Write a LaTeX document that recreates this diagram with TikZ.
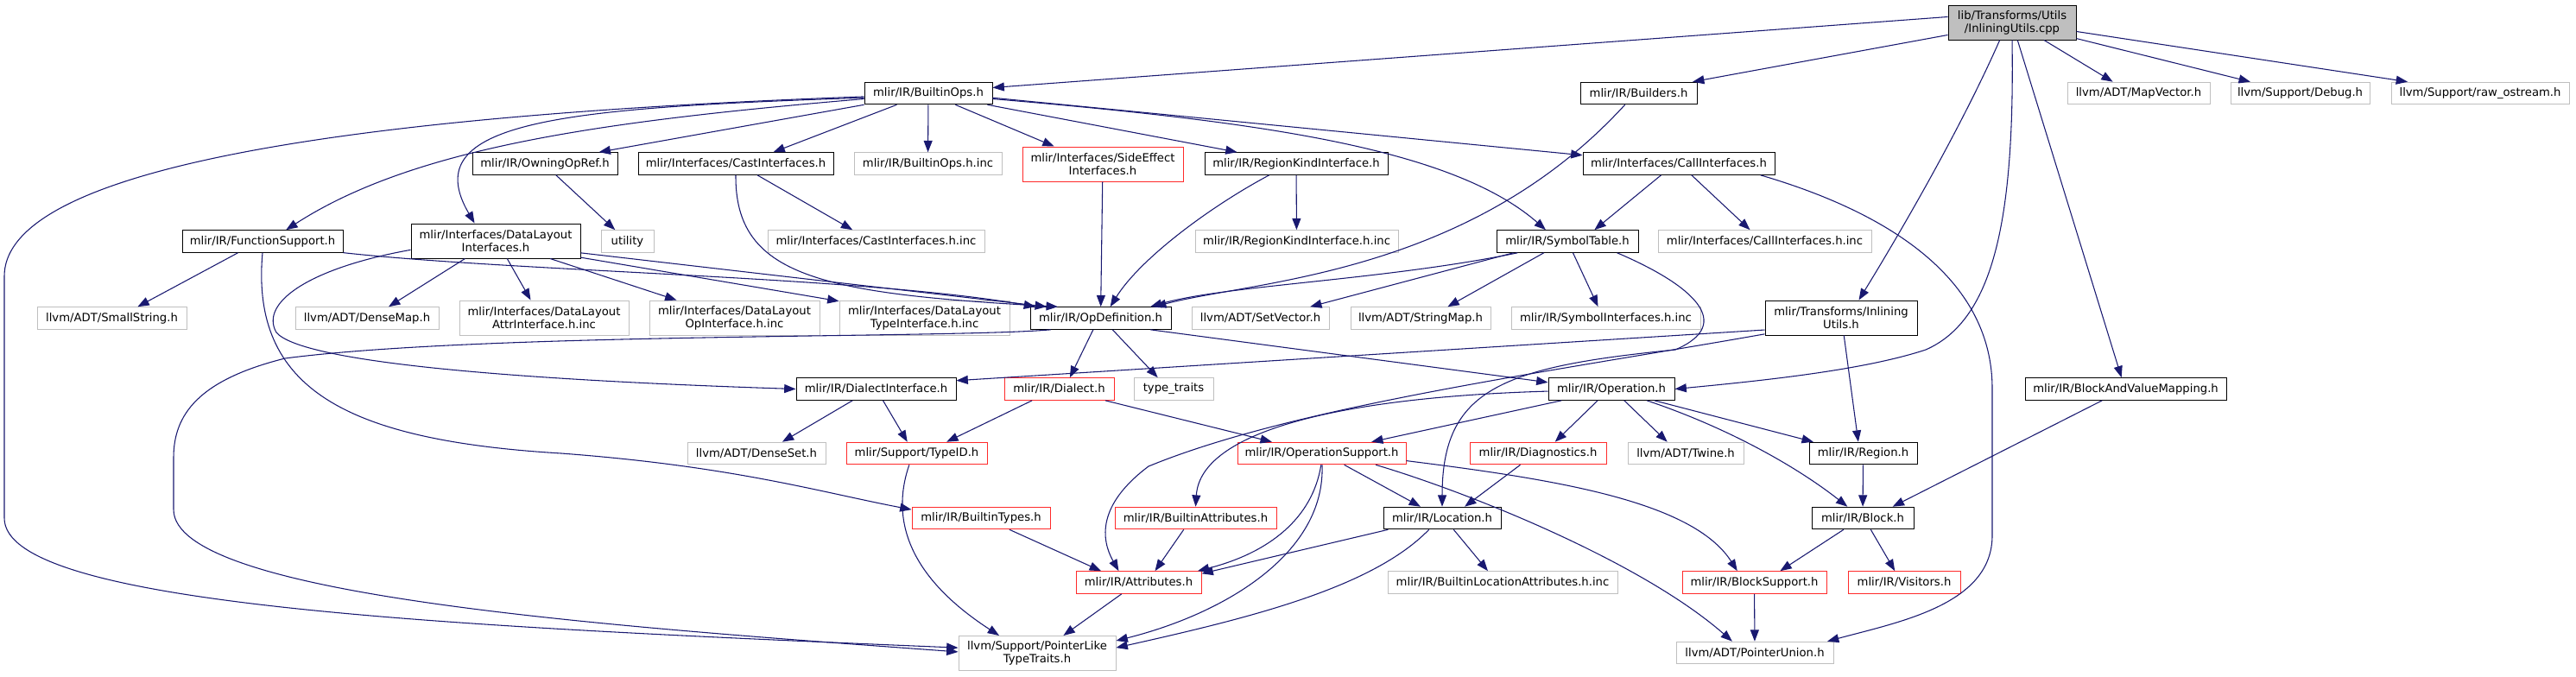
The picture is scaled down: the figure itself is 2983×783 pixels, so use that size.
\documentclass[tikz,border=0pt]{standalone}
\usepackage{fontspec}
\setmainfont{DejaVu Sans}
\usepackage{tikz}
\usetikzlibrary{arrows.meta}
\definecolor{edgeblue}{HTML}{191970}
\definecolor{extgray}{HTML}{BFBFBF}
\definecolor{rootgray}{HTML}{BFBFBF}
\definecolor{truncred}{HTML}{FF2A2A}

\begin{document}
\begin{tikzpicture}[
  x=0.75pt, y=-0.75pt,
  hdr/.style={draw=black, fill=white, line width=0.75pt, inner sep=0pt, minimum height=19.2pt, align=center, font=\fontsize{9.9}{11.25}\selectfont},
  ext/.style={hdr, draw=extgray},
  trunc/.style={hdr, draw=truncred},
  tall/.style={minimum height=30pt},
  wd/.style={minimum width=#1*0.75pt},
  dep/.style={-{Triangle[length=10pt,width=7.5pt]}, draw=edgeblue, line width=0.8pt}
]
\useasboundingbox (0,0) rectangle (2983,783);
\node[hdr, tall, wd=148, fill=rootgray] (root) at (2330,26) {lib/Transforms/Utils\\/InliningUtils.cpp};
\node[hdr, wd=148] (ops) at (1075,108) {mlir/IR/BuiltinOps.h};
\node[hdr, wd=135] (bld) at (1897.5,108) {mlir/IR/Builders.h};
\node[ext, wd=165] (mapvec) at (2476.5,108) {llvm/ADT/MapVector.h};
\node[ext, wd=161] (dbg) at (2663.5,108) {llvm/Support/Debug.h};
\node[ext, wd=206] (rawos) at (2872,108) {llvm/Support/raw\_ostream.h};
\node[hdr, wd=168] (owning) at (631,189.5) {mlir/IR/OwningOpRef.h};
\node[hdr, wd=226] (cast) at (852,189.5) {mlir/Interfaces/CastInterfaces.h};
\node[ext, wd=171] (opsinc) at (1074.5,189.5) {mlir/IR/BuiltinOps.h.inc};
\node[trunc, tall, wd=186] (side) at (1277,190) {mlir/Interfaces/SideEffect\\Interfaces.h};
\node[hdr, wd=212] (rki) at (1501,189.5) {mlir/IR/RegionKindInterface.h};
\node[hdr, wd=222] (call) at (1944,189.5) {mlir/Interfaces/CallInterfaces.h};
\node[hdr, wd=186] (func) at (304,279.5) {mlir/IR/FunctionSupport.h};
\node[hdr, tall, wd=196] (dl) at (574,279) {mlir/Interfaces/DataLayout\\Interfaces.h};
\node[ext, wd=61] (util) at (726.5,279.5) {utility};
\node[ext, wd=251] (castinc) at (1014.5,279.5) {mlir/Interfaces/CastInterfaces.h.inc};
\node[ext, wd=235] (rkiinc) at (1501.5,279.5) {mlir/IR/RegionKindInterface.h.inc};
\node[hdr, wd=164] (sym) at (1815,279.5) {mlir/IR/SymbolTable.h};
\node[ext, wd=247] (callinc) at (2043.5,279.5) {mlir/Interfaces/CallInterfaces.h.inc};
\node[ext, wd=173] (smallstr) at (129.5,368.5) {llvm/ADT/SmallString.h};
\node[ext, wd=166] (densemap) at (425,368.5) {llvm/ADT/DenseMap.h};
\node[ext, tall, wd=196] (dlattr) at (630,368) {mlir/Interfaces/DataLayout\\AttrInterface.h.inc};
\node[ext, tall, wd=197] (dlop) at (850.5,368) {mlir/Interfaces/DataLayout\\OpInterface.h.inc};
\node[ext, tall, wd=197] (dltype) at (1070.5,368) {mlir/Interfaces/DataLayout\\TypeInterface.h.inc};
\node[hdr, wd=163] (opdef) at (1274.5,368.5) {mlir/IR/OpDefinition.h};
\node[ext, wd=159] (setvec) at (1459.5,368.5) {llvm/ADT/SetVector.h};
\node[ext, wd=162] (strmap) at (1645,368.5) {llvm/ADT/StringMap.h};
\node[ext, wd=219] (syminc) at (1859.5,368.5) {mlir/IR/SymbolInterfaces.h.inc};
\node[hdr, tall, wd=176] (inl) at (2132,368) {mlir/Transforms/Inlining\\Utils.h};
\node[hdr, wd=185] (dlif) at (1014.5,450.5) {mlir/IR/DialectInterface.h};
\node[trunc, wd=127] (dialect) at (1226.5,450.5) {mlir/IR/Dialect.h};
\node[ext, wd=92] (traits) at (1359,450.5) {type\_traits};
\node[hdr, wd=146] (oper) at (1866,450.5) {mlir/IR/Operation.h};
\node[hdr, wd=233] (bvm) at (2461.5,450.5) {mlir/IR/BlockAndValueMapping.h};
\node[ext, wd=160] (denseset) at (876,525) {llvm/ADT/DenseSet.h};
\node[trunc, wd=163] (typeid) at (1061.5,525) {mlir/Support/TypeID.h};
\node[trunc, wd=195] (opsup) at (1530.5,525) {mlir/IR/OperationSupport.h};
\node[trunc, wd=158] (diag) at (1781,525) {mlir/IR/Diagnostics.h};
\node[ext, wd=134] (twine) at (1952,525) {llvm/ADT/Twine.h};
\node[hdr, wd=125] (region) at (2157.5,525) {mlir/IR/Region.h};
\node[trunc, wd=160] (btypes) at (1136,600) {mlir/IR/BuiltinTypes.h};
\node[trunc, wd=187] (battrs) at (1384.5,600) {mlir/IR/BuiltinAttributes.h};
\node[hdr, wd=136] (loc) at (1670,600) {mlir/IR/Location.h};
\node[hdr, wd=118] (block) at (2157,600) {mlir/IR/Block.h};
\node[trunc, wd=145] (attrs) at (1318.5,674.5) {mlir/IR/Attributes.h};
\node[ext, wd=266] (locinc) at (1740,674.5) {mlir/IR/BuiltinLocationAttributes.h.inc};
\node[trunc, wd=167] (bsup) at (2031.5,674.5) {mlir/IR/BlockSupport.h};
\node[trunc, wd=130] (visit) at (2205,674.5) {mlir/IR/Visitors.h};
\node[ext, tall, wd=182] (ptrlike) at (1201,756.5) {llvm/Support/PointerLike\\TypeTraits.h};
\node[ext, wd=182] (ptrunion) at (2032,756) {llvm/ADT/PointerUnion.h};
\draw[dep] (root.175) -- (ops.5);
\draw[dep] (root.191) -- (bld.12);
\draw[dep] (root.235) .. controls (2270,150) and (2200,270) .. (inl.45);
\draw[dep] (root.south) .. controls (2333,250) and (2310,370) .. (2230,405) .. controls (2160,428) and (2050,440) .. (oper.east);
\draw[dep] (root.-73) -- (bvm.110);
\draw[dep] (root.-29) -- (mapvec.156);
\draw[dep] (root.-14) -- (dbg.167);
\draw[dep] (root.-8) -- (rawos.171);
\draw[dep] (ops.183) .. controls (500,130) and (5,180) .. (5,320) -- (5,600) .. controls (5,700) and (500,725) .. (ptrlike.176);
\draw[dep] (ops.185) .. controls (700,140) and (480,170) .. (func.26);
\draw[dep] (ops.184) .. controls (650,125) and (480,140) .. (dl.140);
\draw[dep] (ops.south west) -- (owning.12);
\draw[dep] (ops.200) -- (cast.17);
\draw[dep] (ops) -- (opsinc);
\draw[dep] (ops.-23) -- (side.160);
\draw[dep] (ops.-11) -- (rki.169);
\draw[dep] (ops.-5) .. controls (1450,140) and (1680,170) .. (sym.152);
\draw[dep] (ops.-4) -- (call.175);
\draw[dep] (bld.220) .. controls (1700,320) and (1450,325) .. (opdef.12);
\draw[dep] (call.213) -- (sym.23);
\draw[dep] (call.-42) -- (callinc.142);
\draw[dep] (call.-8) .. controls (2200,250) and (2307,330) .. (2307,450) -- (2307,620) .. controls (2307,700) and (2200,720) .. (ptrunion.9);
\draw[dep] (sym.193) .. controls (1600,325) and (1420,330) .. (opdef.13);
\draw[dep] (sym.192) -- (setvec.13);
\draw[dep] (sym.206) -- (strmap.23);
\draw[dep] (sym.-64) -- (syminc.124);
\draw[dep] (sym.-13) .. controls (1960,330) and (2010,375) .. (1940,405) .. controls (1740,425) and (1670,450) .. (loc.north);
\draw[dep] (opdef.237) -- (dialect.47);
\draw[dep] (opdef.-44) -- (traits.144);
\draw[dep] (opdef.-13) -- (oper.174);
\draw[dep] (opdef.193) .. controls (1100,392) and (560,385) .. (330,415) .. controls (230,440) and (201,480) .. (201,530) -- (201,590) .. controls (201,690) and (700,725) .. (ptrlike.179);
\draw[dep] (side) -- (opdef);
\draw[dep] (rki) -- (rkiinc);
\draw[dep] (rki.203) .. controls (1400,240) and (1320,300) .. (opdef.50);
\draw[dep] (cast.-28) -- (castinc.154);
\draw[dep] (cast.south) .. controls (851,320) and (950,340) .. (opdef.165);
\draw[dep] (owning.-46) -- (util.137);
\draw[dep] (func.205) -- (smallstr.24);
\draw[dep] (func.-8) .. controls (600,315) and (1000,320) .. (opdef.170);
\draw[dep] (func.south) .. controls (290,450) and (400,510) .. (650,525) .. controls (850,540) and (950,570) .. (btypes.173);
\draw[dep] (dl.210) -- (densemap.28);
\draw[dep] (dl.-57) -- (dlattr.127);
\draw[dep] (dl.-18) -- (dlop.163);
\draw[dep] (dl.-11) -- (dltype.169);
\draw[dep] (dl.-8) -- (opdef.168);
\draw[dep] (dl.186) .. controls (360,310) and (300,350) .. (320,385) .. controls (350,420) and (600,440) .. (dlif.west);
\draw[dep] (dlif.206) -- (denseset.24);
\draw[dep] (dlif.-59) -- (typeid.129);
\draw[dep] (dialect.203) -- (typeid.21);
\draw[dep] (dialect.-14) -- (opsup.167);
\draw[dep] (typeid.237) .. controls (1035,590) and (1040,660) .. (ptrlike.155);
\draw[dep] (btypes.-22) -- (attrs.163);
\draw[dep] (battrs.224) -- (attrs.35);
\draw[dep] (attrs.214) -- (ptrlike.34);
\draw[dep] (oper.193) -- (opsup.13);
\draw[dep] (oper.220) -- (diag.34);
\draw[dep] (oper.-42) -- (twine.148);
\draw[dep] (oper.-15) -- (region.167);
\draw[dep] (oper.-18) .. controls (2000,495) and (2080,540) .. (block.143);
\draw[dep] (oper.182) .. controls (1550,460) and (1390,500) .. (battrs.north);
\draw[dep] (inl.189) -- (dlif.6);
\draw[dep] (inl.-81) -- (region.113);
\draw[dep] (inl.192) .. controls (1800,430) and (1500,470) .. (1330,540) .. controls (1270,585) and (1275,625) .. (attrs.150);
\draw[dep] (opsup.-27) -- (loc.152);
\draw[dep] (opsup.-5) .. controls (1800,555) and (1960,580) .. (bsup.146);
\draw[dep] (opsup.-12) .. controls (1700,570) and (1900,650) .. (ptrunion.153);
\draw[dep] (opsup.-93) .. controls (1520,600) and (1470,640) .. (attrs.11);
\draw[dep] (opsup.-88) .. controls (1535,640) and (1420,710) .. (ptrlike.9);
\draw[dep] (diag.213) -- (loc.27);
\draw[dep] (loc.-45) -- (locinc.142);
\draw[dep] (loc.192) -- (attrs.8);
\draw[dep] (loc.221) .. controls (1590,680) and (1450,715) .. (ptrlike.4);
\draw[dep] (region) -- (block);
\draw[dep] (block.211) -- (bsup.24);
\draw[dep] (block.-55) -- (visit.129);
\draw[dep] (bvm.206) -- (block.21);
\draw[dep] (bsup) -- (ptrunion);
\end{tikzpicture}
\end{document}
